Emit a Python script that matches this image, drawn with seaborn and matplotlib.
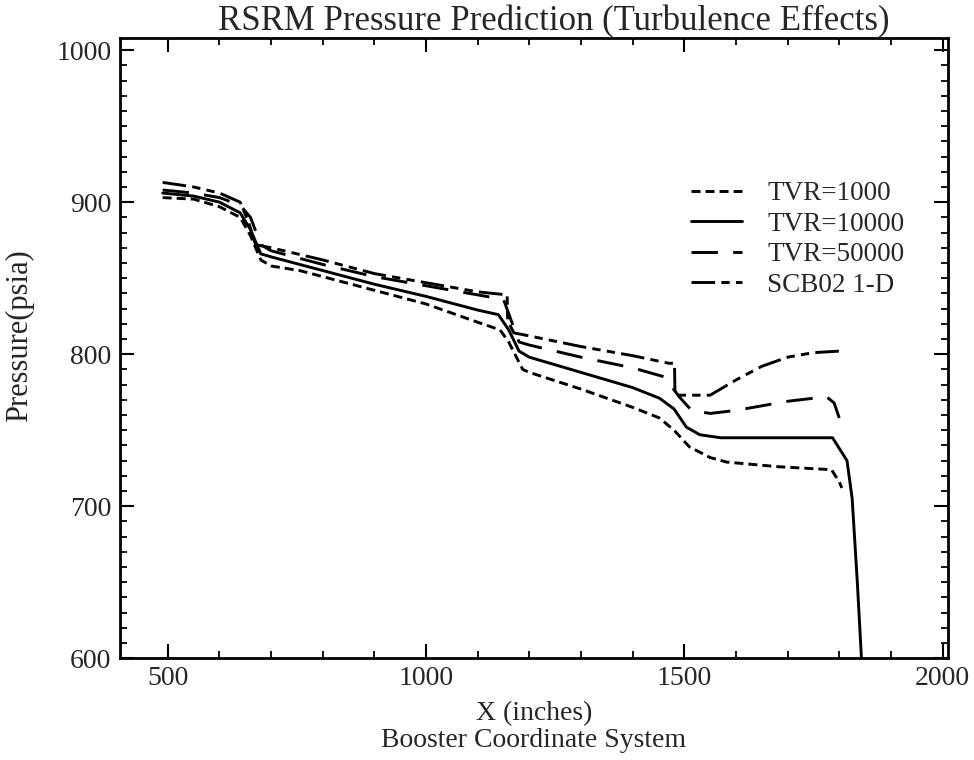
import numpy as np
import pandas as pd
import matplotlib
matplotlib.use("Agg")
import matplotlib.pyplot as plt
import seaborn as sns
from matplotlib.ticker import MultipleLocator

sns.set_theme(style="white")
plt.rcParams['font.family'] = ['Liberation Serif', 'DejaVu Serif']
plt.rcParams['lines.scale_dashes'] = False

# ---- data ----
x_tvr1000 = [490, 550, 600, 640, 660, 680, 700, 755, 800, 900, 1000, 1100, 1143, 1160, 1187,
             1200, 1300, 1400, 1452, 1480, 1510, 1550, 1582, 1680, 1785, 1800, 1805]
y_tvr1000 = [903, 902, 897, 890, 878, 862, 858, 855, 851, 842, 833, 821, 816, 808, 790,
             788, 777, 765, 758, 750, 739, 732, 729, 726, 724, 716, 712]

x_tvr10000 = [490, 550, 600, 640, 660, 680, 700, 800, 900, 1000, 1100, 1140, 1160, 1180, 1200,
              1300, 1400, 1452, 1480, 1504, 1530, 1570, 1700, 1787, 1800, 1815, 1825, 1835, 1843]
y_tvr10000 = [906, 904, 900, 893, 882, 866, 864, 855, 846, 838, 829, 826, 816, 802, 798,
              788, 778, 771, 764, 752, 747, 745, 745, 745, 738, 730, 705, 650, 600]

x_tvr50000 = [490, 550, 600, 640, 660, 680, 700, 800, 900, 1000, 1100, 1150, 1165, 1180, 1200,
              1300, 1400, 1462, 1490, 1514, 1550, 1600, 1700, 1775, 1790, 1800]
y_tvr50000 = [908, 906, 903, 898, 890, 872, 868, 859, 851, 845, 839, 836, 822, 808, 806,
              798, 791, 785, 772, 763, 761, 763, 769, 772, 768, 758]

x_scb02 = [490, 550, 600, 640, 655, 670, 700, 800, 900, 1000, 1100, 1157, 1158, 1170, 1200,
           1300, 1400, 1470, 1481, 1482, 1550, 1600, 1650, 1700, 1750, 1800]
y_scb02 = [913, 910, 906, 900, 888, 872, 870, 862, 853, 847, 841, 839, 822, 814, 812,
           805, 799, 794, 794, 773, 773, 783, 792, 798, 801, 802]

labels = ["TVR=1000", "TVR=10000", "TVR=50000", "SCB02 1-D"]
x_ticks = [500, 1000, 1500, 2000]
y_ticks = [600, 700, 800, 900, 1000]

series = [
    (labels[0], x_tvr1000, y_tvr1000, (0, (6.5, 3.6))),
    (labels[1], x_tvr10000, y_tvr10000, "-"),
    (labels[2], x_tvr50000, y_tvr50000, (0, (19, 11))),
    (labels[3], x_scb02, y_scb02, (0, (17, 4.5, 6, 4.5, 6, 4.5))),
]

fig = plt.figure(figsize=(9.74, 7.6), dpi=100)
ax = fig.add_axes([0.123, 0.134, 0.850, 0.816])

for name, xs, ys, ls in series:
    df = pd.DataFrame({"x": xs, "y": ys})
    sns.lineplot(data=df, x="x", y="y", ax=ax, color="black", linewidth=2.1,
                 linestyle=ls, estimator=None, sort=False, label=name)

ax.set_xlim(407, 2010)
ax.set_ylim(600, 1008)
ax.set_xticks(x_ticks)
ax.set_yticks(y_ticks)
ax.xaxis.set_minor_locator(MultipleLocator(100))
ax.yaxis.set_minor_locator(MultipleLocator(10))
ax.tick_params(which="both", direction="in", top=True, right=True, bottom=True, left=True,
               color="black", labelsize=20)
ax.tick_params(which="major", length=10, width=1.5, pad=6)
ax.tick_params(which="minor", length=5, width=1.3)
for s in ax.spines.values():
    s.set_color("black")
    s.set_linewidth(2)

ax.set_xlabel("X (inches)\nBooster Coordinate System", fontsize=20, labelpad=7, linespacing=1.1)
ax.set_ylabel("Pressure(psia)", fontsize=22)
ax.yaxis.set_label_coords(-0.104, 0.52)
ax.set_title("RSRM Pressure Prediction (Turbulence Effects)", fontsize=25, pad=3, x=0.524)

leg = ax.legend(loc="upper left", bbox_to_anchor=(0.661, 0.808), frameon=False, fontsize=19.5,
                handlelength=1.85, labelspacing=0.2, handletextpad=0.95)

fig.savefig("out.png", dpi=100, facecolor="white")
